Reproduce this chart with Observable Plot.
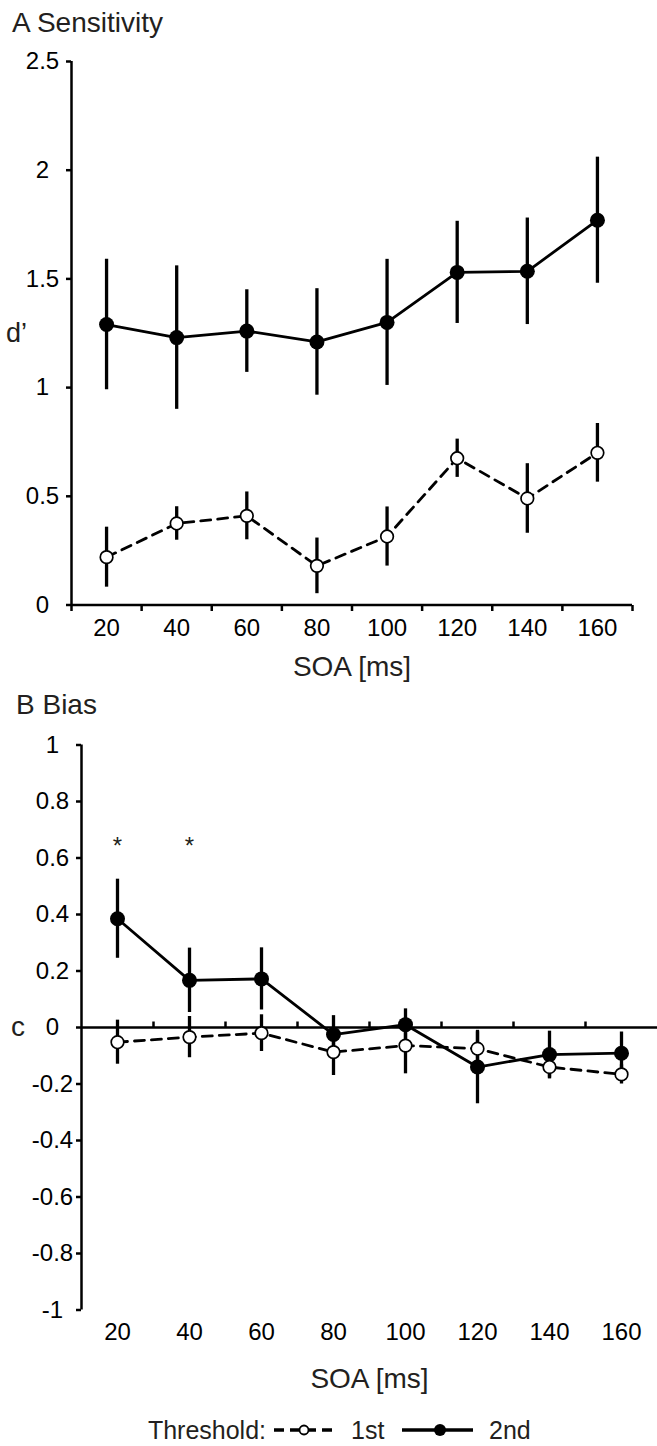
<!DOCTYPE html>
<html>
<head>
<meta charset="utf-8">
<script src="https://cdn.jsdelivr.net/npm/d3@7"></script>
<script src="https://cdn.jsdelivr.net/npm/@observablehq/plot@0.6"></script>
<style>
  html, body { margin: 0; padding: 0; background: #fff; }
  #wrap { position: relative; width: 657px; height: 1446px; overflow: hidden; font-family: 'Liberation Sans', Arial, sans-serif; }
  .abs { position: absolute; }
  .title { position: absolute; font-size: 28px; line-height: 28px; color: #231f20; white-space: nowrap; }
</style>
</head>
<body>
<div id="wrap">
  <div id="top" class="abs" style="left:0;top:40px;"></div>
  <div id="bottom" class="abs" style="left:0;top:720px;"></div>
  <div id="legend" class="abs" style="left:0;top:1400px;"></div>
  <div class="title" style="left:12px;top:8.5px;">A Sensitivity</div>
  <div class="title" style="left:16px;top:691px;">B Bias</div>
</div>
<script>
// ---- data ----
const soa = [20, 40, 60, 80, 100, 120, 140, 160];
const thresholds = ["1st", "2nd"];

// Panel A: sensitivity d'
const sens1st    = [0.22, 0.375, 0.41, 0.18, 0.315, 0.675, 0.49, 0.70];
const sens1stErr = [0.138, 0.077, 0.11, 0.128, 0.136, 0.088, 0.16, 0.135];
const sens2nd    = [1.29, 1.23, 1.26, 1.21, 1.30, 1.53, 1.535, 1.77];
const sens2ndErr = [0.30, 0.33, 0.19, 0.245, 0.29, 0.235, 0.245, 0.29];

// Panel B: bias c
const bias1st    = [-0.052, -0.034, -0.02, -0.087, -0.064, -0.075, -0.14, -0.166];
const bias1stErr = [0.078, 0.073, 0.065, 0.083, 0.10, 0.06, 0.042, 0.034];
const bias2nd    = [0.385, 0.167, 0.172, -0.025, 0.01, -0.14, -0.096, -0.091];
const bias2ndErr = [0.14, 0.114, 0.11, 0.067, 0.056, 0.13, 0.083, 0.075];

// significance markers (panel B)
const starSoa = [20, 40];
const starLevel = [0.64, 0.64];

// axes
const xDomain = [10, 170];
const sensYTicks = [0, 0.5, 1, 1.5, 2, 2.5];
const biasYTicks = [-1, -0.8, -0.6, -0.4, -0.2, 0, 0.2, 0.4, 0.6, 0.8, 1];
const sensTickMarks = [10, 30, 50, 70, 90, 110, 130, 150, 170];
const biasTickMarks = [30, 50, 70, 90, 110, 130, 150];

// ---- helpers ----
const rows = (m, e) => soa.map((s, i) => ({soa: s, m: m[i], lo: m[i] - e[i], hi: m[i] + e[i]}));
const s1 = rows(sens1st, sens1stErr), s2 = rows(sens2nd, sens2ndErr);
const b1 = rows(bias1st, bias1stErr), b2 = rows(bias2nd, bias2ndErr);
const stars = starSoa.map((s, i) => ({soa: s, y: starLevel[i]}));

const tickDown = {draw(ctx) { ctx.moveTo(0, 0); ctx.lineTo(0, 6); }};
const tickUp = {draw(ctx) { ctx.moveTo(0, 0); ctx.lineTo(0, -6); }};

const font = "'Liberation Sans', Arial, sans-serif";
const TICKFS = 24;
const style = {fontFamily: font, fontSize: TICKFS + "px", background: "none", color: "black", overflow: "visible"};
const INK = "black";

function seriesMarks(d1, d2) {
  return [
    // 2nd threshold (filled, solid)
    Plot.ruleX(d2, {x: "soa", y1: "lo", y2: "hi", stroke: INK, strokeWidth: 3.3}),
    Plot.line(d2, {x: "soa", y: "m", stroke: INK, strokeWidth: 2.8}),
    Plot.dot(d2, {x: "soa", y: "m", r: 7.5, fill: INK, stroke: "none"}),
    // 1st threshold (open, dashed)
    Plot.ruleX(d1, {x: "soa", y1: "lo", y2: "hi", stroke: INK, strokeWidth: 3.3}),
    Plot.line(d1, {x: "soa", y: "m", stroke: INK, strokeWidth: 2.8, strokeDasharray: "10,7"}),
    Plot.dot(d1, {x: "soa", y: "m", r: 6.3, fill: "white", stroke: INK, strokeWidth: 1.7})
  ];
}

// ---- Panel A ----
const topPlot = Plot.plot({
  width: 657, height: 650,
  marginLeft: 71, marginRight: 25, marginTop: 21, marginBottom: 85.5,
  x: {domain: xDomain, label: null},
  y: {domain: [sensYTicks[0], sensYTicks[sensYTicks.length - 1]], label: null},
  style,
  marks: [
    Plot.axisY(sensYTicks, {tickSize: 5, tickPadding: 24, textAnchor: "middle", tickFormat: d => String(d), strokeWidth: 2.5, label: null, fontSize: TICKFS}),
    Plot.axisX(soa, {tickSize: 0, tickPadding: 14, tickFormat: d => String(d), label: null, fontSize: TICKFS}),
    Plot.dot(sensTickMarks, {x: d => d, y: () => 0, symbol: tickDown, stroke: INK, fill: "none", strokeWidth: 2.5}),
    Plot.ruleX([xDomain[0]], {stroke: INK, strokeWidth: 2.5}),
    Plot.ruleY([0], {stroke: INK, strokeWidth: 2.5}),
    ...seriesMarks(s1, s2),
    Plot.text(["SOA [ms]"], {text: d => d, frameAnchor: "bottom", lineAnchor: "middle", dy: 62, fontSize: 28, fill: "#231f20"}),
    Plot.text(["d’"], {text: d => d, frameAnchor: "left", lineAnchor: "middle", textAnchor: "middle", dx: -55, fontSize: 27, fill: "#231f20"})
  ]
});
document.getElementById("top").appendChild(topPlot);

// ---- Panel B ----
const botPlot = Plot.plot({
  width: 657, height: 680,
  marginLeft: 81, marginRight: 0, marginTop: 24.5, marginBottom: 90.5,
  x: {domain: xDomain, label: null},
  y: {domain: [biasYTicks[0], biasYTicks[biasYTicks.length - 1]], label: null},
  style,
  marks: [
    Plot.axisY(biasYTicks, {tickSize: 5, tickPadding: 24, textAnchor: "middle", tickFormat: d => String(d), strokeWidth: 2.5, label: null, fontSize: TICKFS}),
    Plot.axisX(soa, {tickSize: 0, tickPadding: 13, tickFormat: d => String(d), label: null, fontSize: TICKFS}),
    Plot.ruleX([xDomain[0]], {stroke: INK, strokeWidth: 2.5}),
    Plot.ruleY([0], {stroke: INK, strokeWidth: 2.5}),
    Plot.dot(biasTickMarks, {x: d => d, y: () => 0, symbol: tickUp, stroke: INK, fill: "none", strokeWidth: 2.5}),
    ...seriesMarks(b1, b2),
    Plot.text(stars, {x: "soa", y: "y", text: () => "*", fontSize: 24, fill: "#231f20"}),
    Plot.text(["SOA [ms]"], {text: d => d, frameAnchor: "bottom", lineAnchor: "middle", dy: 69, fontSize: 28, fill: "#231f20"}),
    Plot.text(["c"], {text: d => d, frameAnchor: "left", lineAnchor: "middle", textAnchor: "middle", dx: -63.5, fontSize: 28, fill: "#231f20"})
  ]
});
document.getElementById("bottom").appendChild(botPlot);

// ---- Legend ----
const NS = "http://www.w3.org/2000/svg";
const leg = document.createElementNS(NS, "svg");
leg.setAttribute("width", 657); leg.setAttribute("height", 46);
leg.style.fontFamily = font;
function el(tag, attrs, txt) {
  const e = document.createElementNS(NS, tag);
  for (const k in attrs) e.setAttribute(k, attrs[k]);
  if (txt != null) e.textContent = txt;
  leg.appendChild(e); return e;
}
const cy = 30;
el("text", {x: 266, y: cy, "text-anchor": "end", "dominant-baseline": "central", "font-size": 25, fill: "#231f20"}, "Threshold:");
el("line", {x1: 274, x2: 338, y1: cy, y2: cy, stroke: INK, "stroke-width": 3.5, "stroke-dasharray": "10,6"});
el("circle", {cx: 304, cy: cy, r: 4.5, fill: "white", stroke: INK, "stroke-width": 1.8});
el("text", {x: 351, y: cy, "dominant-baseline": "central", "font-size": 25, fill: "#231f20"}, thresholds[0]);
el("line", {x1: 402, x2: 473, y1: cy, y2: cy, stroke: INK, "stroke-width": 3.5});
el("circle", {cx: 440, cy: cy, r: 6, fill: INK});
el("text", {x: 489, y: cy, "dominant-baseline": "central", "font-size": 25, fill: "#231f20"}, thresholds[1]);
document.getElementById("legend").appendChild(leg);
</script>
</body>
</html>
